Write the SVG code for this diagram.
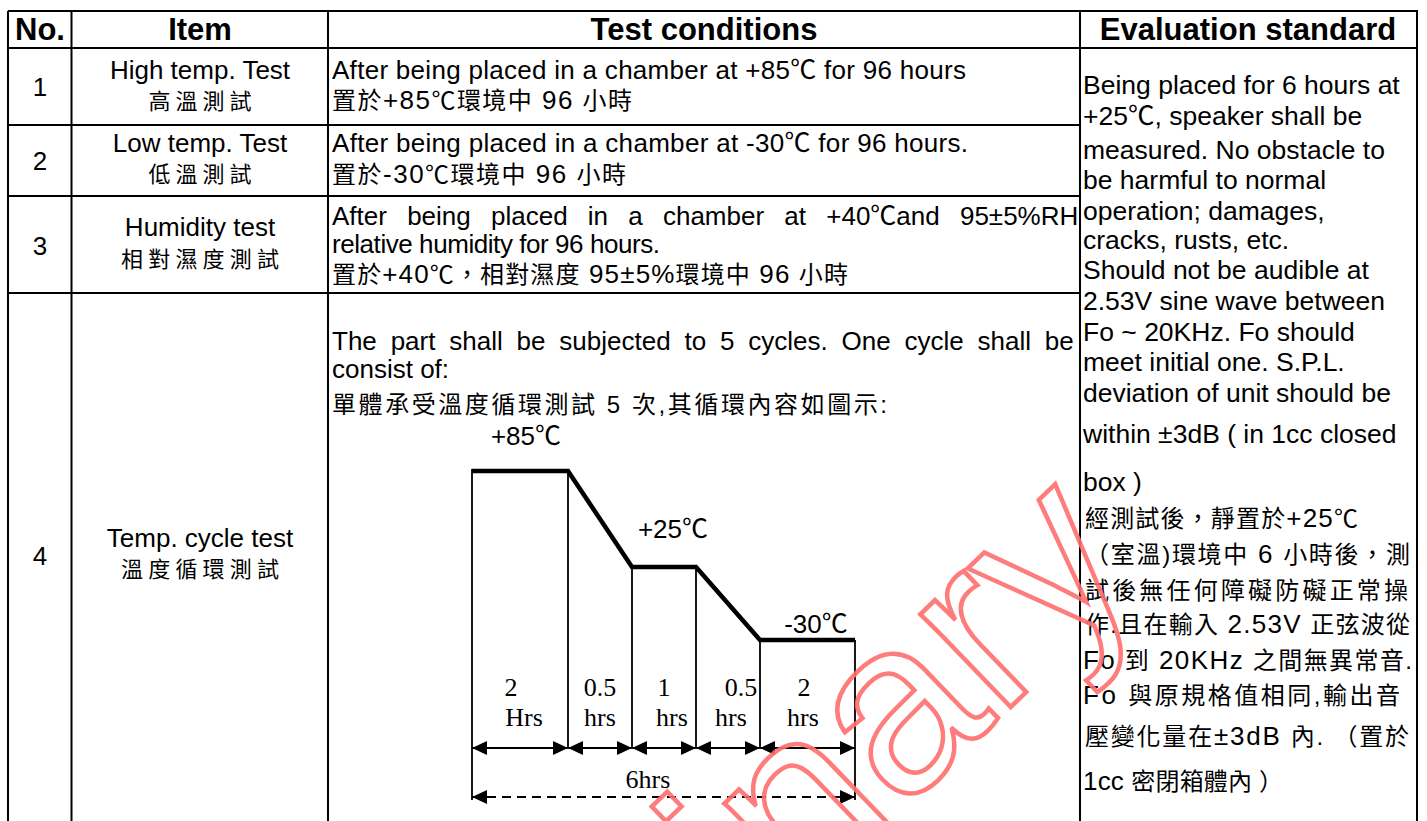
<svg xmlns="http://www.w3.org/2000/svg" width="1427" height="821" viewBox="0 0 1427 821">
<defs>
<style>
text{font-family:"Liberation Sans","Noto Sans CJK TC",sans-serif;font-size:26px;fill:#000}
.h{font-weight:bold;font-size:31px;text-anchor:middle}
.c{text-anchor:middle}
.zh{font-size:24px}
.zi{font-size:22px}
.L{font-size:26px}
.e{font-size:26.5px}
.s{font-family:"Liberation Serif",serif;font-size:26px;text-anchor:middle}
.grid{stroke:#000;stroke-width:2;fill:none}
.thin{stroke:#000;stroke-width:1.8;fill:none}
.thick{stroke:#000;stroke-width:4.5;fill:none;stroke-linejoin:miter}
.dim{stroke:#000;stroke-width:2;fill:none;marker-start:url(#ah);marker-end:url(#ah)}
.dash{stroke-dasharray:9 6}
.wm{font-size:245px;fill:none;stroke:#ff6e6e;stroke-width:4.5;stroke-opacity:.9}
</style>
<marker id="ah" viewBox="0 0 15 14" refX="15" refY="7" markerWidth="15" markerHeight="14" markerUnits="userSpaceOnUse" orient="auto-start-reverse"><path d="M0,0L15,7L0,14z" fill="#000"/></marker>
</defs>
<rect width="1427" height="821" fill="#fff"/>
<g id="grid" class="grid">
<path d="M8,11H1417V830M8,11V830M71.5,11V830M328,11V830M1080,11V830M8,48H1417M8,125H1080M8,196H1080M8,293H1080"/>
</g>
<g id="header">
<text class="h" x="40" y="40">No.</text>
<text class="h" x="200" y="40">Item</text>
<text class="h" x="704" y="40">Test conditions</text>
<text class="h" x="1248" y="40">Evaluation standard</text>
</g>
<g id="row1">
<text class="c" x="40" y="96">1</text>
<text class="c" x="200" y="79">High temp. Test</text>
<text class="c zi" x="200" y="109" textLength="103" lengthAdjust="spacing">高溫測試</text>
<text x="332" y="79" textLength="634" lengthAdjust="spacing">After being placed in a chamber at +85℃ for 96 hours</text>
<text class="zh" x="332" y="109" textLength="300" lengthAdjust="spacing">置於<tspan class="L">+85</tspan>℃環境中<tspan class="L"> 96 </tspan>小時</text>
</g>
<g id="row2">
<text class="c" x="40" y="170">2</text>
<text class="c" x="200" y="152">Low temp. Test</text>
<text class="c zi" x="200" y="182" textLength="103" lengthAdjust="spacing">低溫測試</text>
<text x="332" y="152" textLength="636" lengthAdjust="spacing">After being placed in a chamber at -30℃ for 96 hours.</text>
<text class="zh" x="332" y="183" textLength="294" lengthAdjust="spacing">置於<tspan class="L">-30</tspan>℃環境中<tspan class="L"> 96 </tspan>小時</text>
</g>
<g id="row3">
<text class="c" x="40" y="255">3</text>
<text class="c" x="200" y="236">Humidity test</text>
<text class="c zi" x="200" y="267" textLength="158" lengthAdjust="spacing">相對濕度測試</text>
<text x="332" y="225" word-spacing="13">After being placed in a chamber at +40℃and 95±5%RH</text>
<text x="332" y="253" textLength="328" lengthAdjust="spacing">relative humidity for 96 hours.</text>
<text class="zh" x="332" y="283" textLength="516" lengthAdjust="spacing">置於<tspan class="L">+40</tspan>℃，相對濕度<tspan class="L"> 95±5%</tspan>環境中<tspan class="L"> 96 </tspan>小時</text>
</g>
<g id="row4">
<text class="c" x="40" y="565">4</text>
<text class="c" x="200" y="547">Temp. cycle test</text>
<text class="c zi" x="200" y="577" textLength="158" lengthAdjust="spacing">溫度循環測試</text>
<text x="332" y="350" word-spacing="6.6">The part shall be subjected to 5 cycles. One cycle shall be</text>
<text x="332" y="378">consist of:</text>
<text class="zh" x="332" y="413" textLength="555" lengthAdjust="spacing">單體承受溫度循環測試 5 次,其循環內容如圖示:</text>
</g>
<g id="chart">
<polyline class="thick" points="472,471 568,471 632,567 696,567 760,640 855,640"/>
<path class="thin" d="M472,469V800M568,471V748M632,567V748M696,567V748M760,640V748M855,640V800"/>
<text class="c" x="526" y="445">+85℃</text>
<text class="c" x="673" y="538">+25℃</text>
<text class="c" x="816" y="633">-30℃</text>
<text class="s" x="511" y="696">2</text>
<text class="s" x="524" y="726">Hrs</text>
<text class="s" x="600" y="696">0.5</text>
<text class="s" x="600" y="726">hrs</text>
<text class="s" x="664" y="696">1</text>
<text class="s" x="672" y="726">hrs</text>
<text class="s" x="741" y="696">0.5</text>
<text class="s" x="731" y="726">hrs</text>
<text class="s" x="804" y="696">2</text>
<text class="s" x="803" y="726">hrs</text>
<text class="s" x="648" y="788">6hrs</text>
</g>
<g id="connectors">
<line class="dim" x1="472" y1="748" x2="568" y2="748"/>
<line class="dim" x1="568" y1="748" x2="632" y2="748"/>
<line class="dim" x1="632" y1="748" x2="696" y2="748"/>
<line class="dim" x1="696" y1="748" x2="760" y2="748"/>
<line class="dim" x1="760" y1="748" x2="855" y2="748"/>
<line class="dim dash" x1="472" y1="797" x2="855" y2="797"/>
</g>
<g id="evaluation">
<text class="e" x="1083" y="94">Being placed for 6 hours at</text>
<text class="e" x="1083" y="125">+25℃, speaker shall be</text>
<text class="e" x="1083" y="159">measured. No obstacle to</text>
<text class="e" x="1083" y="189">be harmful to normal</text>
<text class="e" x="1083" y="220">operation; damages,</text>
<text class="e" x="1083" y="249">cracks, rusts, etc.</text>
<text class="e" x="1083" y="279">Should not be audible at</text>
<text class="e" x="1083" y="310">2.53V sine wave between</text>
<text class="e" x="1083" y="341">Fo ~ 20KHz. Fo should</text>
<text class="e" x="1083" y="371">meet initial one. S.P.L.</text>
<text class="e" x="1083" y="402">deviation of unit should be</text>
<text class="e" x="1083" y="443">within ±3dB ( in 1cc closed</text>
<text class="e" x="1083" y="491">box )</text>
<text class="zh" x="1085" y="527" textLength="273" lengthAdjust="spacing">經測試後，靜置於<tspan class="L">+25</tspan>℃</text>
<text class="zh" x="1085" y="563" textLength="325" lengthAdjust="spacing">（室溫)環境中<tspan class="L"> 6 </tspan>小時後，測</text>
<text class="zh" x="1085" y="599" textLength="323" lengthAdjust="spacing">試後無任何障礙防礙正常操</text>
<text class="zh" x="1085" y="633" textLength="325" lengthAdjust="spacing">作.且在輸入<tspan class="L"> 2.53V </tspan>正弦波從</text>
<text class="zh" x="1083" y="669" textLength="329" lengthAdjust="spacing"><tspan class="L">Fo </tspan>到<tspan class="L"> 20KHz </tspan>之間無異常音.</text>
<text class="zh" x="1083" y="704" textLength="317" lengthAdjust="spacing"><tspan class="L">Fo </tspan>與原規格值相同,輸出音</text>
<text class="zh" x="1085" y="745" textLength="324" lengthAdjust="spacing">壓變化量在<tspan class="L">±3dB </tspan>內. （置於</text>
<text class="zh" x="1083" y="790" textLength="200" lengthAdjust="spacing"><tspan class="L">1cc </tspan>密閉箱體內 ）</text>
</g>
<g id="watermark">
<text class="wm" transform="translate(264,1428) rotate(-44)">Preliminary</text>
</g>
</svg>
